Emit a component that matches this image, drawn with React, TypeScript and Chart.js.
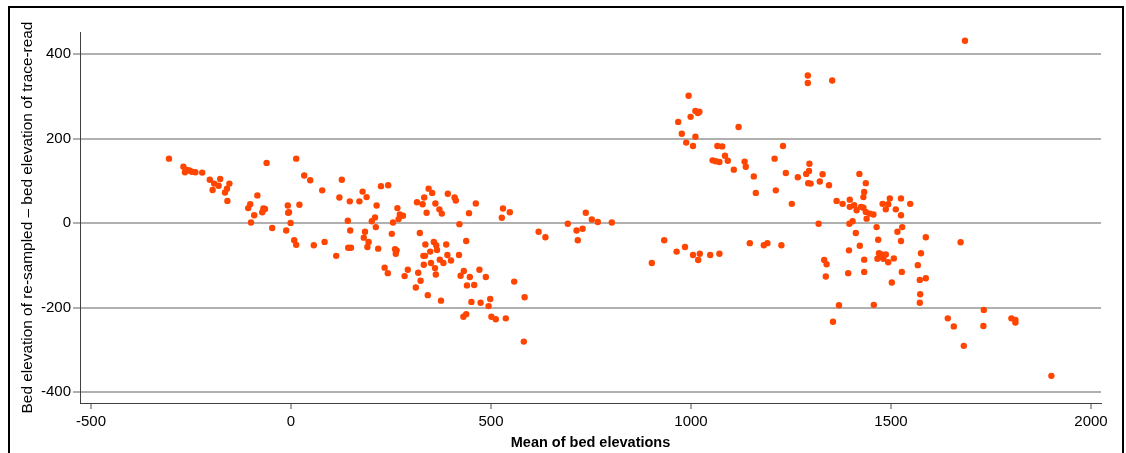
import { useEffect, useRef } from "react";
import { Chart, registerables } from "chart.js";

Chart.register(...registerables);

// Mean of bed elevations (x)
const meanElevation = [
  -305, -269, -265, -261, -254, -248, -239, -222, -203, -192, -196, -181, -177, -165, -160, -154, -159,
  -61, -84, -102, -107, -92, -100, -69, -72, -65, -47, 13, 33, 48, 78, -8, 21, -7, -5, -1, -12, 8, 13, 57, 84, 113,
  127, 121, 147, 171, 179, 189, 225, 243, 214, 142, 148, 143, 150, 185, 182, 194, 191, 218, 202, 210, 212, 255, 266,
  269, 272, 280, 252, 260, 264, 262, 234, 242, 292, 284, 315, 329, 333, 344, 353, 339, 361, 371, 377, 392, 409, 412,
  462, 445, 530, 527, 547, 421, 322, 336, 348, 357, 363, 365, 331, 335, 332, 318, 324, 312, 342, 375, 350, 360, 362,
  372, 381, 391, 388, 400, 420, 438, 432, 424, 447, 440, 458, 471, 487, 451, 474, 498, 494, 438, 431, 501, 512, 537,
  558, 584, 582,
  619, 636, 692, 714, 717, 729, 737, 752, 767, 802, 902, 933, 964, 985, 1005, 1018, 1022,
  994, 968, 999, 1011, 1017, 977, 988, 1005, 1011, 1021,
  1119, 1292, 1292, 1353, 1066, 1078, 1085, 1092, 1054, 1062, 1071, 1107, 1134, 1137, 1157, 1162, 1209, 1230, 1237,
  1212, 1252, 1267, 1288, 1296, 1295, 1293, 1299, 1329, 1322, 1345, 1364, 1379, 1421, 1437, 1433, 1431, 1397, 1397,
  1408, 1414, 1425, 1431, 1437, 1447, 1439, 1456, 1319, 1396, 1404, 1412, 1464, 1468, 1422, 1395, 1433, 1466, 1470,
  1333, 1339, 1337, 1393, 1433, 1370, 1457, 1355, 1147, 1182, 1191, 1226, 1048, 1071,
  1685, 1479, 1487, 1493, 1497, 1512, 1525, 1525, 1548, 1516, 1528, 1525, 1587, 1674, 1476, 1481, 1487, 1493, 1507,
  1472, 1575, 1567, 1527, 1502, 1572, 1587, 1573, 1572, 1642, 1657, 1732, 1731, 1682, 1801, 1811, 1811, 1901,
];

// Bed elevation of re-sampled – bed elevation of trace-read (y)
const elevationDiff = [
  153, 134, 121, 126, 125, 122, 121, 120, 103, 94, 79, 89, 105, 73, 82, 94, 53,
  143, 66, 45, 36, 19, 2, 35, 26, 34, -11, 153, 113, 102, 78, 42, 44, 25, 26, 1, -17, -40, -51, -52, -44, -77,
  103, 61, 52, 52, 75, 62, 88, 90, 42, 6, -17, -58, -58, -20, -34, -44, -56, -60, 5, 14, -9, 2, 36,
  10, 21, 18, -25, -61, -64, -72, -105, -118, -110, -125, 50, 45, 61, 82, 72, 25, 47, 33, 23, 70, 61, 54,
  47, 24, 35, 13, 26, -2, -23, -50, -67, -44, -52, -63, -77, -77, -98, -117, -136, -152, -170, -183, -94, -106, -121,
  -86, -94, -75, -50, -88, -75, -42, -113, -124, -127, -147, -146, -110, -127, -186, -188, -179, -196, -215, -221, -221, -227, -225,
  -138, -175, -280,
  -20, -33, -1, -17, -40, -13, 25, 9, 3, 2, -94, -40, -67, -56, -75, -87, -72,
  302, 240, 252, 266, 261, 212, 191, 183, 205, 264,
  228, 350, 332, 338, 183, 182, 160, 148, 149, 147, 145, 127, 146, 134, 111, 72, 153, 183, 119,
  78, 46, 109, 117, 141, 124, 95, 94, 116, 99, 90, 53, 46, 117, 95, 74, 62, 56, 39,
  43, 31, 39, 37, 27, 23, 11, 21, -1, -1, 5, -23, -9, -39, -53, -64, -86, -84, -71,
  -87, -97, -126, -118, -115, -194, -193, -233, -47, -52, -47, -52, -75, -72,
  432, 46, 33, 45, 59, 33, 59, 19, 46, -20, -9, -42, -33, -45, -74, -84, -74, -92, -83,
  -80, -71, -99, -115, -140, -134, -130, -168, -188, -225, -244, -205, -243, -290, -225, -229, -235, -361,
];

const xTicks = [-500, 0, 500, 1000, 1500, 2000];
const yTicks = [-400, -200, 0, 200, 400];
const xTitle = "Mean of bed elevations";
const yTitle = "Bed elevation of re-sampled \u2013 bed elevation of trace-read";

const FONT = "'Liberation Sans', Arial, sans-serif";

export default function App() {
  const ref = useRef<HTMLCanvasElement>(null);

  useEffect(() => {
    const points = meanElevation.map((x, i) => ({ x, y: elevationDiff[i] }));
    const chart = new Chart(ref.current as HTMLCanvasElement, {
      type: "scatter",
      data: {
        datasets: [
          {
            data: points,
            backgroundColor: "#ff4500",
            borderColor: "#ff4500",
            borderWidth: 0,
            pointRadius: 3.2,
            pointHoverRadius: 3.2,
          },
        ],
      },
      options: {
        responsive: false,
        animation: false,
        layout: { padding: { left: 0, top: 32, right: 25, bottom: 0 } },
        plugins: { legend: { display: false }, tooltip: { enabled: false } },
        scales: {
          x: {
            type: "linear",
            min: -527.5,
            max: 2025,
            afterBuildTicks: (s: any) => {
              s.ticks = xTicks.map((v) => ({ value: v }));
            },
            afterFit: (s: any) => {
              s.height = 50;
            },
            grid: { drawOnChartArea: false, color: "#a8a8a8", lineWidth: 2, tickLength: 6 },
            border: { display: true, color: "#404040", width: 1 },
            ticks: {
              color: "#000",
              font: { size: 15, family: FONT },
              padding: 4,
              maxRotation: 0,
              autoSkip: false,
              callback: (v: any) => String(v),
            },
            title: {
              display: true,
              text: xTitle,
              color: "#000",
              font: { size: 14.5, weight: "bold", family: FONT },
              padding: { top: 0, bottom: 1 },
            },
          },
          y: {
            type: "linear",
            min: -425.3,
            max: 452.8,
            afterBuildTicks: (s: any) => {
              s.ticks = yTicks.map((v) => ({ value: v }));
            },
            afterFit: (s: any) => {
              s.width = 80;
            },
            grid: { drawOnChartArea: true, color: "#b0b0b0", lineWidth: 2, tickLength: 7 },
            border: { display: true, color: "#404040", width: 1 },
            ticks: {
              color: "#000",
              font: { size: 15, family: FONT },
              padding: 2,
              autoSkip: false,
              callback: (v: any) => String(v),
            },
            title: {
              display: true,
              text: yTitle,
              color: "#000",
              font: { size: 15.4, family: FONT },
              padding: { top: 19, bottom: 0 },
            },
          },
        },
      },
    });
    return () => chart.destroy();
  }, []);

  return (
    <div
      style={{
        position: "absolute",
        left: 0,
        top: 0,
        width: 1126,
        height: 453,
        overflow: "hidden",
        background: "#fff",
      }}
    >
      <canvas ref={ref} width={1126} height={453} style={{ display: "block" }} />
      <div
        style={{
          position: "absolute",
          left: 8,
          top: 6,
          width: 1116,
          height: 470,
          border: "2px solid #000",
          boxSizing: "border-box",
          pointerEvents: "none",
        }}
      />
    </div>
  );
}
